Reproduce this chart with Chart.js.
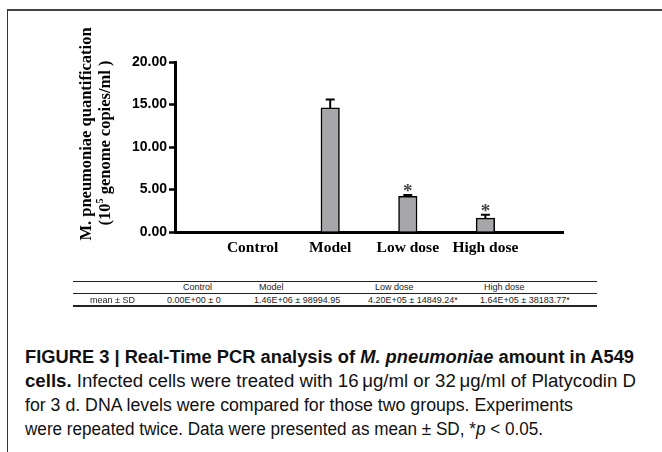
<!DOCTYPE html>
<html><head><meta charset="utf-8">
<script src="https://cdn.jsdelivr.net/npm/chart.js@4.4.1/dist/chart.umd.min.js"></script>
<style>
html,body{margin:0;padding:0;background:#fff;width:662px;height:452px;overflow:hidden;position:relative;font-family:"Liberation Sans",Arial,sans-serif;}
#frame{position:absolute;left:7px;top:9px;width:720px;height:520px;border-left:1px solid #333;border-top:2px solid #444;}
#c{position:absolute;left:0;top:0;}
.yt{position:absolute;font-family:"Liberation Serif","Times New Roman",serif;font-weight:bold;font-size:16.5px;color:#000;white-space:nowrap;line-height:17px;transform:translate(-50%,-50%) rotate(-90deg);}
.tl{position:absolute;left:73px;width:524px;background:#222;}
.tt{position:absolute;font-size:9px;color:#222;white-space:nowrap;line-height:10px;transform:translateY(-50%);}
.cap{position:absolute;left:25px;font-family:"Liberation Sans",sans-serif;font-size:18px;line-height:24px;color:#111;white-space:nowrap;transform-origin:0 0;}
</style></head><body>
<div id="frame"></div>
<canvas id="c" width="662" height="265"></canvas>
<div class="yt" id="yt1" style="left:85px;top:134px;"></div>
<div class="yt" id="yt2" style="left:104px;top:143px;"></div>
<div id="table"></div>
<div id="caption"></div>
<script>
// ---- data ----
const categories = ['Control', 'Model', 'Low dose', 'High dose'];
const meanValues = [0, 14.6, 4.2, 1.64];          // ×10^5 genome copies/ml
const sdValues = [0, 0.99, 0.148, 0.38];           // ×10^5
const significant = [false, false, true, true];
const yTicks = [0, 5, 10, 15, 20];
const yTitle = ['M. pneumoniae quantification', '(10\u2075 genome copies/ml )'];
const tableRowLabel = 'mean \u00b1 SD';
const tableMeans = ['0.00E+00', '1.46E+06', '4.20E+05', '1.64E+05'];
const tableSDs = ['0', '98994.95', '14849.24*', '38183.77*'];
const captionLines = [
  '<b>FIGURE 3 | Real-Time PCR analysis of <i>M. pneumoniae</i> amount in A549</b>',
  '<b>cells.</b> Infected cells were treated with 16\u2009\u03bcg/ml or 32\u2009\u03bcg/ml of Platycodin D',
  'for 3 d. DNA levels were compared for those two groups. Experiments',
  'were repeated twice. Data were presented as mean \u00b1 SD, *<i>p</i> &lt; 0.05.'
];

// ---- chart ----
const labels = ['', ...categories, ''];
const barData = [null, ...meanValues, null];
const sdData = [null, ...sdValues, null];
const sigData = [false, ...significant, false];

const errPlugin = {
  id: 'errbars',
  afterDatasetsDraw(chart) {
    const ctx = chart.ctx, x = chart.scales.x, y = chart.scales.y;
    ctx.save();
    barData.forEach((v, i) => {
      if (v === null) return;
      const sd = sdData[i];
      const px = x.getPixelForValue(i);
      const yTop = y.getPixelForValue(v + sd);
      if (sd > 0) {
        const yMean = y.getPixelForValue(v);
        ctx.strokeStyle = '#000';
        ctx.lineWidth = 2;
        ctx.beginPath();
        ctx.moveTo(px, yMean); ctx.lineTo(px, yTop);
        ctx.moveTo(px - 4.5, yTop); ctx.lineTo(px + 4.5, yTop);
        ctx.stroke();
      }
      if (sigData[i]) {
        ctx.fillStyle = '#444';
        ctx.font = 'bold 19px "Liberation Serif", serif';
        ctx.textAlign = 'center';
        ctx.textBaseline = 'alphabetic';
        ctx.fillText('*', px, yTop + 2);
      }
    });
    ctx.restore();
  }
};

new Chart(document.getElementById('c'), {
  type: 'bar',
  data: {
    labels: labels,
    datasets: [{
      data: barData,
      backgroundColor: '#a7a7aa',
      borderColor: '#000',
      borderWidth: 1.5,
      borderSkipped: 'bottom',
      barThickness: 18.5
    }]
  },
  options: {
    responsive: false,
    animation: false,
    events: [],
    layout: { padding: { left: 0, right: 99, top: 62, bottom: 0 } },
    plugins: { legend: { display: false }, tooltip: { enabled: false } },
    scales: {
      x: {
        offset: false,
        afterFit: (s) => { s.height = 33; },
        grid: { display: false, drawTicks: false },
        border: { display: true, color: '#000', width: 3 },
        ticks: {
          padding: 7,
          color: '#000',
          maxRotation: 0,
          autoSkip: false,
          font: { family: '"Liberation Serif", "Times New Roman", serif', weight: 'bold', size: 15.5 }
        }
      },
      y: {
        min: 0, max: 20,
        afterFit: (s) => { s.width = 175; },
        afterBuildTicks: (s) => { s.ticks = yTicks.map(v => ({ value: v })); },
        grid: { drawOnChartArea: false, drawTicks: true, tickLength: 6, color: '#000', tickWidth: 2.5 },
        border: { display: true, color: '#000', width: 3 },
        ticks: {
          padding: 2,
          color: '#000',
          callback: (v) => Number(v).toFixed(2),
          font: { family: '"Liberation Sans", Arial, sans-serif', weight: 'bold', size: 14 }
        }
      }
    }
  },
  plugins: [errPlugin]
});

// ---- y title ----
document.getElementById('yt1').textContent = yTitle[0];
document.getElementById('yt2').innerHTML = '(10<sup style="font-size:10px;line-height:0">5</sup> genome copies/ml )';

// ---- table ----
const T = document.getElementById('table');
function line(top, h) { const d = document.createElement('div'); d.className = 'tl'; d.style.top = top + 'px'; d.style.height = h + 'px'; T.appendChild(d); }
function txt(s, left, cy) { const d = document.createElement('div'); d.className = 'tt'; d.style.left = left + 'px'; d.style.top = cy + 'px'; d.textContent = s; T.appendChild(d); }
line(281, 1); line(293, 1); line(305, 1.5);
const headX = [183, 259, 375, 484];
const dataX = [167, 254, 368, 480];
categories.forEach((c, i) => { txt(c, headX[i], 287); txt(tableMeans[i] + ' \u00b1 ' + tableSDs[i], dataX[i], 300); });
txt(tableRowLabel, 90, 300);

// ---- caption ----
const C = document.getElementById('caption');
const capTops = [345, 369, 393, 417];
const capTargets = [609, 611, 548, 518];
captionLines.forEach((h, i) => {
  const d = document.createElement('div');
  d.className = 'cap';
  d.style.top = capTops[i] + 'px';
  d.innerHTML = h;
  C.appendChild(d);
  const w = d.getBoundingClientRect().width;
  d.style.transform = 'scaleX(' + (capTargets[i] / w) + ')';
});
</script>
</body></html>
